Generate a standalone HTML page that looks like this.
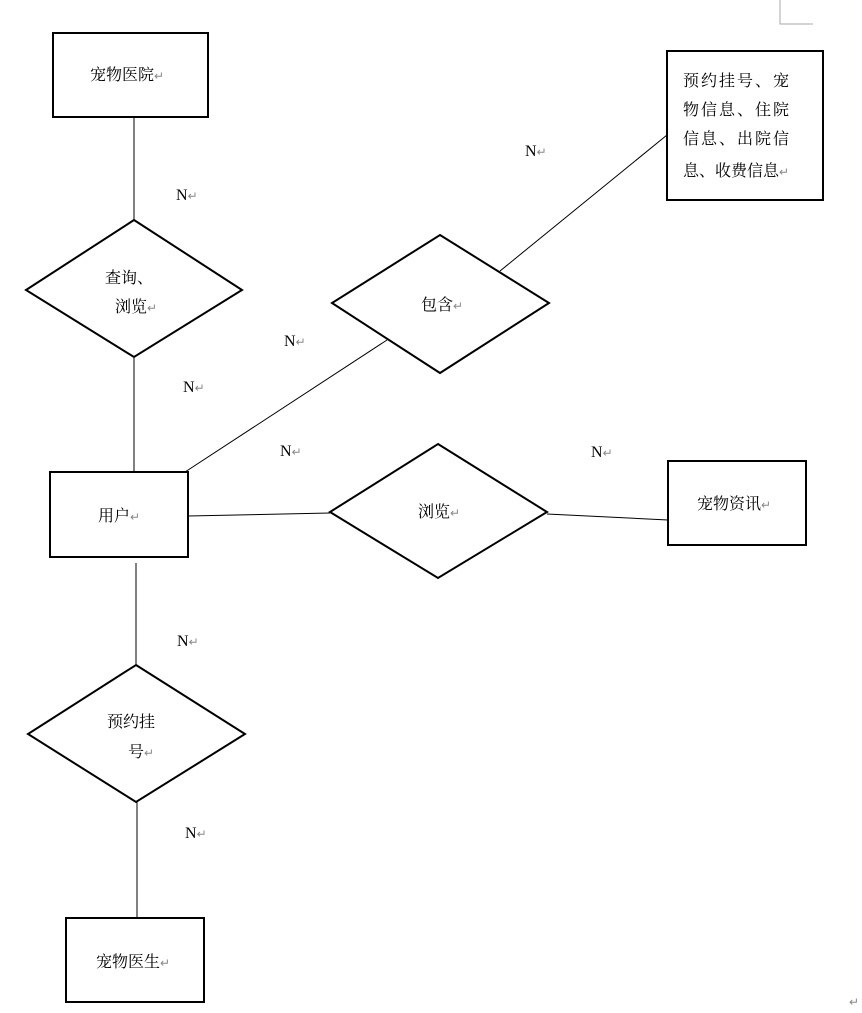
<!DOCTYPE html>
<html><head><meta charset="utf-8"><style>
html,body{margin:0;padding:0;background:#fff;}
svg{display:block;}
text{font-family:"Liberation Serif","Noto Serif CJK SC",serif;font-size:16px;fill:#000;}
.r{fill:#888;font-size:12px;}
</style></head><body>
<svg width="862" height="1013" viewBox="0 0 862 1013" xmlns="http://www.w3.org/2000/svg">
<g stroke="#aaa" fill="none"><path d="M780 0V24H813"/></g>
<g stroke="#000" stroke-width="1" fill="none">
<line x1="134" y1="117" x2="134" y2="220"/>
<line x1="134" y1="357" x2="134" y2="472"/>
<line x1="667" y1="135" x2="500" y2="271"/>
<line x1="387" y1="340" x2="185" y2="472"/>
<line x1="188" y1="516" x2="330" y2="513"/>
<line x1="547" y1="514" x2="668" y2="520"/>
<line x1="136" y1="563" x2="136" y2="665"/>
<line x1="137" y1="802" x2="137" y2="918"/>
</g>
<g stroke="#000" stroke-width="2" fill="#fff">
<rect x="53" y="33" width="155" height="84"/>
<rect x="50" y="472" width="138" height="85"/>
<rect x="667" y="51" width="156" height="149"/>
<rect x="668" y="461" width="138" height="84"/>
<rect x="66" y="918" width="138" height="84"/>
<polygon points="134,220 242,290 134,357 26,290"/>
<polygon points="440,235 549,303 440,373 332,303"/>
<polygon points="438,444 547,512 438,578 330,512"/>
<polygon points="136,665 245,734 136,802 28,734"/>
</g>
<text x="90" y="80">宠物医院<tspan class="r">↵</tspan></text>
<text x="105" y="283">查询、</text>
<text x="115" y="312">浏览<tspan class="r">↵</tspan></text>
<text x="98" y="521">用户<tspan class="r">↵</tspan></text>
<text x="683" y="86" letter-spacing="2">预约挂号、宠</text>
<text x="683" y="115" letter-spacing="2">物信息、住院</text>
<text x="683" y="144" letter-spacing="2">信息、出院信</text>
<text x="683" y="176">息、收费信息<tspan class="r">↵</tspan></text>
<text x="421" y="310">包含<tspan class="r">↵</tspan></text>
<text x="418" y="517">浏览<tspan class="r">↵</tspan></text>
<text x="697" y="509">宠物资讯<tspan class="r">↵</tspan></text>
<text x="107" y="727">预约挂</text>
<text x="128" y="757">号<tspan class="r">↵</tspan></text>
<text x="96" y="967">宠物医生<tspan class="r">↵</tspan></text>
<text x="176" y="200">N<tspan class="r">↵</tspan></text>
<text x="183" y="392">N<tspan class="r">↵</tspan></text>
<text x="284" y="346">N<tspan class="r">↵</tspan></text>
<text x="280" y="456">N<tspan class="r">↵</tspan></text>
<text x="591" y="457">N<tspan class="r">↵</tspan></text>
<text x="525" y="156">N<tspan class="r">↵</tspan></text>
<text x="177" y="646">N<tspan class="r">↵</tspan></text>
<text x="185" y="838">N<tspan class="r">↵</tspan></text>
<text x="849" y="1006" class="r">↵</text>
</svg>
</body></html>
